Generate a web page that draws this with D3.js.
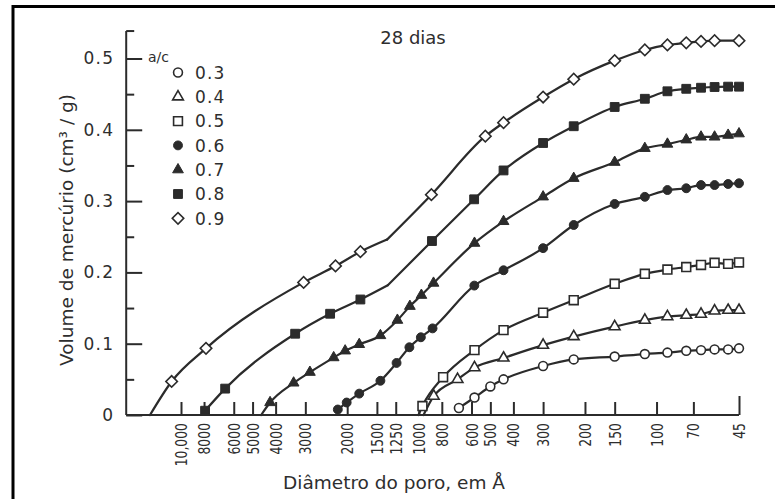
<!DOCTYPE html>
<html>
<head>
<meta charset="utf-8">
<script src="https://cdn.jsdelivr.net/npm/d3@7"></script>
<style>
  body { margin: 0; background: #fff; }
  svg { display: block; }
  text { fill: #2e2e2e; font-family: "DejaVu Sans", "Liberation Sans", sans-serif; }
</style>
</head>
<body>
<svg id="chart" width="775" height="499"></svg>
<script>
// Mercury intrusion porosimetry, 28-day cement pastes, by water/cement ratio.
// Each row: [pore diameter (Å), cumulative intruded volume (cm³/g), marker (1) or curve knot only (0)]
// An unmarked knot inside a series is a corner of the drawn curve.
const ac03 = [
  [678, 0.0098, 1], [583, 0.0245, 1], [500, 0.040, 1], [440, 0.050, 1],
  [300, 0.0687, 1], [223, 0.078, 1], [150, 0.082, 1], [112, 0.0855, 1],
  [90, 0.0875, 1], [75, 0.090, 1], [65, 0.091, 1], [57, 0.092, 1],
  [50, 0.092, 1], [45, 0.0935, 1]
];
const ac04 = [
  [955, 0, 0], [865, 0.0265, 1], [687, 0.050, 1], [583, 0.0665, 1],
  [440, 0.080, 1], [300, 0.098, 1], [223, 0.110, 1], [150, 0.124, 1],
  [112, 0.133, 1], [90, 0.138, 1], [75, 0.140, 1], [65, 0.1415, 1],
  [57, 0.146, 1], [50, 0.147, 1], [45, 0.147, 1]
];
const ac05 = [
  [1003, 0, 0], [965, 0.0126, 1], [790, 0.053, 1], [583, 0.091, 1],
  [440, 0.119, 1], [300, 0.1435, 1], [223, 0.161, 1], [150, 0.184, 1],
  [112, 0.198, 1], [90, 0.204, 1], [75, 0.2075, 1], [65, 0.2105, 1],
  [57, 0.2135, 1], [50, 0.212, 1], [45, 0.214, 1]
];
const ac06 = [
  [2190, 0.0077, 1], [2010, 0.0175, 1], [1780, 0.030, 1], [1450, 0.048, 1],
  [1240, 0.073, 1], [1095, 0.095, 1], [980, 0.109, 1], [875, 0.1215, 1],
  [584, 0.1815, 1], [440, 0.203, 1], [300, 0.234, 1], [223, 0.2665, 1],
  [150, 0.296, 1], [112, 0.306, 1], [90, 0.3155, 1], [75, 0.318, 1],
  [65, 0.3225, 1], [57, 0.3225, 1], [50, 0.324, 1], [45, 0.325, 1]
];
const ac07 = [
  [4600, 0, 0], [4220, 0.0175, 1], [3360, 0.045, 1], [2870, 0.060, 1],
  [2280, 0.0805, 1], [2040, 0.090, 1], [1780, 0.099, 1], [1450, 0.1115, 1],
  [1230, 0.133, 1], [1090, 0.1525, 1], [975, 0.168, 1], [867, 0.185, 1],
  [583, 0.241, 1], [440, 0.2715, 1], [300, 0.306, 1], [223, 0.332, 1],
  [150, 0.3545, 1], [112, 0.374, 1], [90, 0.380, 1], [75, 0.386, 1],
  [65, 0.390, 1], [57, 0.390, 1], [50, 0.3925, 1], [45, 0.3945, 1]
];
const ac08 = [
  [7920, 0.006, 1], [6520, 0.037, 1], [3310, 0.114, 1], [2360, 0.142, 1],
  [1760, 0.162, 1], [1350, 0.182, 0], [880, 0.244, 1], [585, 0.3025, 1],
  [440, 0.343, 1], [300, 0.3815, 1], [223, 0.405, 1], [150, 0.432, 1],
  [112, 0.4435, 1], [90, 0.454, 1], [75, 0.4575, 1], [65, 0.459, 1],
  [57, 0.460, 1], [50, 0.4605, 1], [45, 0.4605, 1]
];
const ac09 = [
  [13500, 0, 0], [10950, 0.047, 1], [7850, 0.0935, 1], [3050, 0.186, 1],
  [2240, 0.209, 1], [1760, 0.229, 1], [1360, 0.246, 0], [885, 0.309, 1],
  [525, 0.391, 1], [440, 0.410, 1], [300, 0.446, 1], [223, 0.471, 1],
  [150, 0.497, 1], [112, 0.512, 1], [90, 0.519, 1], [75, 0.522, 1],
  [65, 0.524, 1], [57, 0.525, 1], [45, 0.525, 1]
];

const ratioLabels = ["0.3", "0.4", "0.5", "0.6", "0.7", "0.8", "0.9"];
const seriesList = [ac03, ac04, ac05, ac06, ac07, ac08, ac09];

const xTickValues = [10000, 8000, 6000, 5000, 4000, 3000, 2000, 1500, 1250, 1000,
                     800, 600, 500, 400, 300, 200, 150, 100, 70, 45];
const xTickLabels = ["10,000", "8000", "6000", "5000", "4000", "3000", "2000", "1500", "1250", "1000",
                     "800", "600", "500", "400", "300", "200", "150", "100", "70", "45"];
const yMajorTicks = [0, 0.1, 0.2, 0.3, 0.4, 0.5];
const yMajorLabels = ["0", "0.1", "0.2", "0.3", "0.4", "0.5"];
const yMinorTicks = [0.05, 0.15, 0.25, 0.35, 0.45];

// marker styling per series
const markerShape = ["circle", "triangle", "square", "circle", "triangle", "square", "diamond"];
const markerFilled = [false, false, false, true, true, true, false];

const ink = "#2b2b2b";
const svg = d3.select("#chart");

// outer frame
svg.append("rect")
  .attr("x", 13).attr("y", 6.5).attr("width", 800).attr("height", 520)
  .attr("fill", "none").attr("stroke", "#000").attr("stroke-width", 3);

const x = d3.scaleLog().domain([10000, 45]).range([181, 739]);
const y = d3.scaleLinear().domain([0, 0.5]).range([415, 58.5]);

const xAxisStart = 17000;
const yAxisTop = 0.5385;

// y axis: spine, major ticks with labels, minor ticks
svg.append("line")
  .attr("x1", x(xAxisStart)).attr("x2", x(xAxisStart))
  .attr("y1", y(0)).attr("y2", y(yAxisTop))
  .attr("stroke", ink).attr("stroke-width", 2);
svg.append("line")
  .attr("x1", x(xAxisStart)).attr("x2", x(xAxisStart) + 8)
  .attr("y1", y(yAxisTop)).attr("y2", y(yAxisTop))
  .attr("stroke", ink).attr("stroke-width", 2);

const yMajor = svg.append("g")
  .attr("transform", `translate(${x(xAxisStart)},0)`)
  .call(d3.axisLeft(y).tickValues(yMajorTicks).tickSize(-16).tickPadding(12)
    .tickFormat((d, i) => yMajorLabels[i]));
yMajor.select(".domain").remove();
yMajor.selectAll(".tick line").attr("stroke", ink).attr("stroke-width", 2);
yMajor.selectAll(".tick text")
  .attr("font-size", 17).attr("letter-spacing", 1.2)
  .attr("font-family", "DejaVu Sans, sans-serif").attr("fill", "#333");

const yMinor = svg.append("g")
  .attr("transform", `translate(${x(xAxisStart)},0)`)
  .call(d3.axisLeft(y).tickValues(yMinorTicks).tickSize(-8).tickFormat(""));
yMinor.select(".domain").remove();
yMinor.selectAll(".tick line").attr("stroke", ink).attr("stroke-width", 2);

// x axis: baseline, upward ticks, rotated labels
svg.append("line")
  .attr("x1", x(xAxisStart)).attr("x2", x(45))
  .attr("y1", y(0)).attr("y2", y(0))
  .attr("stroke", ink).attr("stroke-width", 2);

const xAx = svg.append("g")
  .attr("transform", `translate(0,${y(0)})`)
  .call(d3.axisBottom(x).tickValues(xTickValues).tickSize(-13)
    .tickFormat((d, i) => xTickLabels[i]));
xAx.select(".domain").remove();
xAx.selectAll(".tick line").attr("stroke", ink).attr("stroke-width", 2)
  .attr("y2", d => d === 45 ? -19 : -13);
xAx.selectAll(".tick text")
  .attr("y", 0).attr("x", -10).attr("dy", "0.36em")
  .attr("transform", "rotate(-90) scale(0.8,1)")
  .style("text-anchor", "end")
  .attr("font-size", 15.5)
  .attr("font-family", "Liberation Sans, Arial, sans-serif")
  .attr("fill", "#333");

// curves: smooth runs between corner knots
const line = d3.line()
  .x(d => x(d[0]))
  .y(d => y(d[1]))
  .curve(d3.curveMonotoneX);

function splitAtCorners(s) {
  const pieces = [];
  let cur = [];
  s.forEach((d, i) => {
    cur.push(d);
    if (d[2] === 0 && i > 0 && i < s.length - 1) {
      pieces.push(cur);
      cur = [d];
    }
  });
  pieces.push(cur);
  return pieces;
}

const plot = svg.append("g");
seriesList.forEach(s => {
  splitAtCorners(s).forEach(piece => {
    plot.append("path")
      .attr("d", line(piece))
      .attr("fill", "none")
      .attr("stroke", ink)
      .attr("stroke-width", 2.2)
      .attr("stroke-linejoin", "round")
      .attr("stroke-linecap", "round");
  });
});

function markerPath(shape) {
  if (shape === "circle") return d3.symbol(d3.symbolCircle, 62)();
  if (shape === "triangle") return d3.symbol(d3.symbolTriangle, 50)();
  if (shape === "square") return d3.symbol(d3.symbolSquare, 78)();
  return d3.symbol(d3.symbolSquare, 66)();
}
function markerRotation(shape) { return shape === "diamond" ? 45 : 0; }

function drawMarker(g, shape, filled, cx, cy) {
  g.append("path")
    .attr("d", markerPath(shape))
    .attr("transform", `translate(${cx},${cy}) rotate(${markerRotation(shape)})`)
    .attr("fill", filled ? ink : "#fff")
    .attr("stroke", ink)
    .attr("stroke-width", filled ? 1 : 1.6);
}

seriesList.forEach((s, i) => {
  s.filter(d => d[2] === 1).forEach(d => {
    drawMarker(plot, markerShape[i], markerFilled[i], x(d[0]), y(d[1]));
  });
});

// legend
const legend = svg.append("g");
legend.append("text")
  .attr("x", 148).attr("y", 61.5)
  .attr("font-size", 14)
  .text("a/c");
ratioLabels.forEach((lab, i) => {
  const cy = 72.5 + i * 24.3;
  drawMarker(legend, markerShape[i], markerFilled[i], 178, cy);
  legend.append("text")
    .attr("x", 195).attr("y", cy + 6.2)
    .attr("font-size", 17).attr("letter-spacing", 1.2)
    .text(lab);
});

// titles
svg.append("text")
  .attr("x", 413).attr("y", 43.5)
  .attr("text-anchor", "middle")
  .attr("font-size", 18)
  .text("28 dias");

svg.append("text")
  .attr("transform", "translate(73,230) rotate(-90)")
  .attr("text-anchor", "middle")
  .attr("font-size", 18.5)
  .text("Volume de mercúrio (cm³ / g)");

svg.append("text")
  .attr("x", 394).attr("y", 489)
  .attr("text-anchor", "middle")
  .attr("font-size", 18.5)
  .text("Diâmetro do poro, em Å");
</script>
</body>
</html>
